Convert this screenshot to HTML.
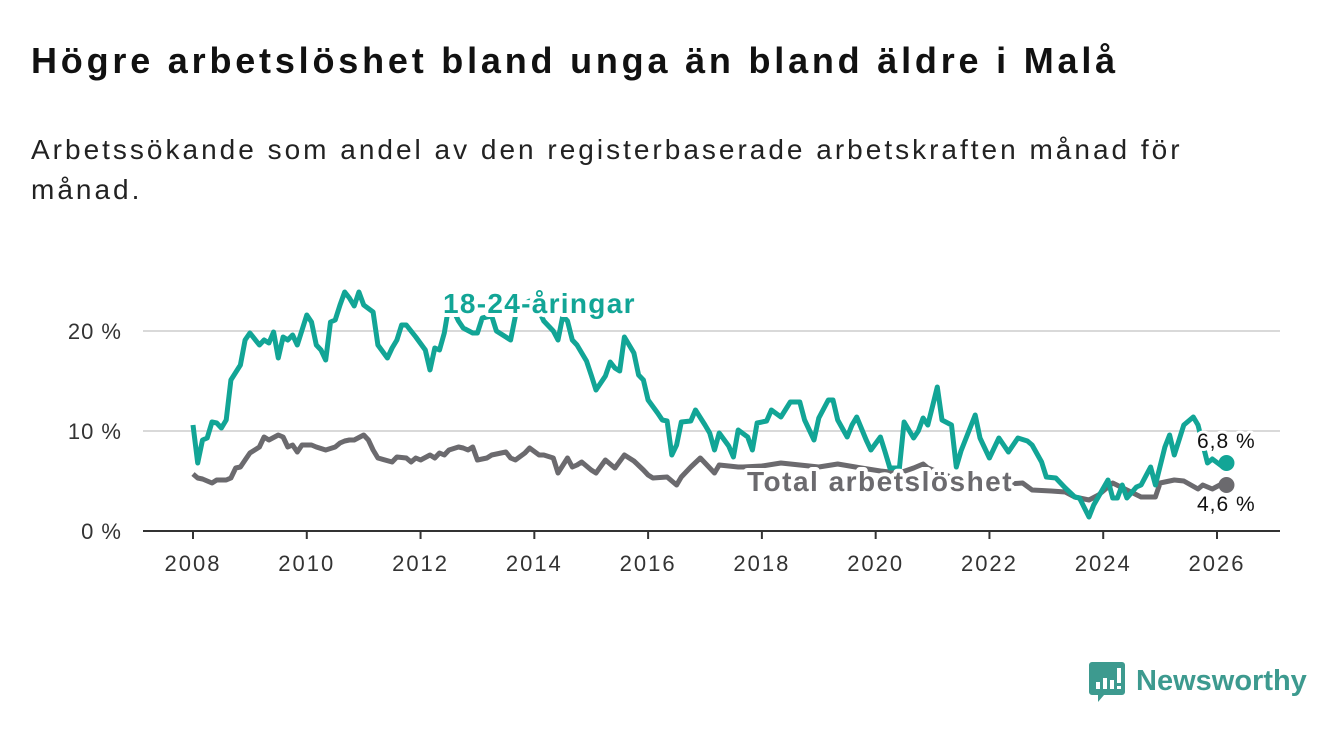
<!DOCTYPE html>
<html><head><meta charset="utf-8">
<style>
body{margin:0;width:1340px;height:734px;background:#fff;font-family:"Liberation Sans","DejaVu Sans",sans-serif;overflow:hidden;position:relative}
h1{position:absolute;left:31px;top:40px;margin:0;font-size:36px;letter-spacing:3.8px;font-weight:bold;color:#111;white-space:nowrap}
p.sub{position:absolute;left:31px;top:130px;margin:0;font-size:28px;letter-spacing:3.0px;line-height:40px;color:#222;width:1180px}
svg{position:absolute;left:0;top:0}
</style></head><body>
<h1>Högre arbetslöshet bland unga än bland äldre i Malå</h1>
<p class="sub">Arbetssökande som andel av den registerbaserade arbetskraften månad för månad.</p>
<svg id="chart" width="1340" height="734"></svg>
<script>
const yTicks=[0,10,20];
const yTickLabels=["0 %","10 %","20 %"];
const xTicks=[2008,2010,2012,2014,2016,2018,2020,2022,2024,2026];
const youthMonths=[0,1,2,3,4,5,6,7,8,10,11,12,14,15,16,17,18,19,20,21,22,24,25,26,27,28,29,30,31,32,33,34,35,36,38,39,41,42,43,44,45,47,49,50,51,52,53,54,55,56,57,59,60,61,63,64,66,67,68,69,71,73,74,76,77,78,79,80,81,83,84,85,87,88,89,90,91,93,94,95,96,98,99,100,101,102,103,105,106,108,109,110,111,113,114,115,117,118,119,121,122,124,126,128,129,131,132,134,135,136,138,139,140,142,143,145,146,147,149,150,152,153,154,155,156,157,158,160,161,162,165,166,168,170,172,174,176,177,179,180,182,184,186,187,189,190,193,194,195,196,197,199,200,202,203,205,206,207,209,211,212,214,215,217,218];
const youthValues=[10.6,6.8,9.1,9.3,10.9,10.8,10.3,11.1,15.1,16.6,19.1,19.8,18.6,19.1,18.8,19.9,17.3,19.4,19.1,19.6,18.6,21.6,20.9,18.6,18.1,17.1,20.9,21.1,22.6,23.9,23.3,22.5,23.9,22.6,21.9,18.6,17.3,18.3,19.1,20.6,20.6,19.4,18.1,16.1,18.3,18.1,19.8,22.6,22.0,21.0,20.3,19.8,19.8,21.3,21.5,20.0,19.4,19.1,21.5,22.5,23.0,22.0,21.0,20.0,19.1,21.5,21.0,19.1,18.6,17.0,15.6,14.1,15.5,16.9,16.3,16.0,19.4,17.8,15.6,15.1,13.1,11.8,11.1,11.0,7.6,8.6,10.9,11.0,12.1,10.6,9.8,8.1,9.8,8.5,7.4,10.1,9.4,8.1,10.8,11.0,12.1,11.4,12.9,12.9,11.1,9.1,11.3,13.1,13.1,11.1,9.4,10.6,11.4,9.1,8.1,9.4,7.9,6.3,6.3,10.9,9.3,10.0,11.3,10.6,12.5,14.4,11.1,10.6,6.4,8.0,11.6,9.3,7.3,9.3,7.9,9.3,9.0,8.6,6.9,5.4,5.3,4.3,3.4,3.3,1.4,2.6,5.1,3.3,3.3,4.6,3.3,4.4,4.6,6.4,4.6,8.4,9.6,7.6,10.6,11.4,10.6,6.8,7.2,6.5,6.8];
const totalMonths=[0,1,2,4,5,7,8,9,10,11,12,14,15,16,18,19,20,21,22,23,25,26,28,30,31,32,33,34,36,37,38,39,42,43,45,46,47,48,50,51,52,53,54,56,57,58,59,60,62,63,65,66,67,68,70,71,73,74,76,77,79,80,81,82,84,85,87,89,91,93,95,96,97,100,102,103,105,107,110,111,113,115,116,120,124,128,132,136,141,145,149,152,154,155,162,168,172,175,177,181,184,186,189,191,194,197,200,203,204,207,209,212,213,215,217,218];
const totalValues=[5.7,5.3,5.2,4.8,5.1,5.1,5.3,6.3,6.4,7.1,7.8,8.4,9.4,9.1,9.6,9.4,8.4,8.6,7.9,8.6,8.6,8.4,8.1,8.4,8.8,9.0,9.1,9.1,9.6,9.1,8.1,7.3,6.9,7.4,7.3,6.9,7.3,7.1,7.6,7.3,7.8,7.6,8.1,8.4,8.3,8.1,8.4,7.1,7.3,7.6,7.8,7.9,7.3,7.1,7.8,8.3,7.6,7.6,7.3,5.8,7.3,6.4,6.6,6.9,6.1,5.8,7.1,6.3,7.6,7.0,6.1,5.6,5.3,5.4,4.6,5.4,6.4,7.3,5.8,6.6,6.5,6.4,6.4,6.5,6.8,6.6,6.4,6.7,6.3,6.0,5.8,6.3,6.7,6.3,5.0,4.8,4.7,4.8,4.1,4.0,3.9,3.4,3.1,3.6,4.8,4.1,3.4,3.4,4.8,5.1,5.0,4.2,4.6,4.2,4.7,4.6];

const svg=document.getElementById('chart');
const NS='http://www.w3.org/2000/svg';
const x0=193,pxYear=(1217-193)/18;
function xScale(m){return x0+m/12*pxYear;}
function xYear(y){return x0+(y-2008)*pxYear;}
function yScale(v){return 531-v*10;}
function mk(tag,attrs,parent){const e=document.createElementNS(NS,tag);for(const k in attrs)e.setAttribute(k,attrs[k]);(parent||svg).appendChild(e);return e;}

yTicks.forEach((t,i)=>{
  if(t>0){const g=mk('line',{x1:143,x2:1280,y1:yScale(t),y2:yScale(t),stroke:'#d9d9d9','stroke-width':2});
  
  }
  const tx=mk('text',{x:122,y:yScale(t)+8,'text-anchor':'end','font-size':22,'letter-spacing':1,fill:'#333'});
  tx.textContent=yTickLabels[i];
  
  
});
const ax=mk('line',{x1:143,x2:1280,y1:531,y2:531,stroke:'#333','stroke-width':2});


xTicks.forEach(t=>{
  const x=xYear(t);
  mk('line',{x1:x,x2:x,y1:531,y2:539,stroke:'#333','stroke-width':2});
  const tx=mk('text',{x:x,y:571,'text-anchor':'middle','font-size':22,'letter-spacing':2,fill:'#333'});
  tx.textContent=t;
  
  
});
function line(ms,vs,color,name){
  const d=ms.map((m,i)=>(i?'L':'M')+xScale(m).toFixed(1)+','+yScale(vs[i]).toFixed(1)).join('');
  const p=mk('path',{d:d,fill:'none',stroke:color,'stroke-width':5,'stroke-linejoin':'round'});
  
  
  const lm=ms[ms.length-1],lv=vs[vs.length-1];
  const c=mk('circle',{cx:xScale(lm),cy:yScale(lv),r:8,fill:color});
  
  
}
line(totalMonths,totalValues,'#6b6a6e','total-line');
line(youthMonths,youthValues,'#12a596','youth-line');
function label(txt,x,y,color,size,bold,ls,name){
  const t=mk('text',{x:x,y:y,'font-size':size,'font-weight':bold?'bold':'normal','letter-spacing':ls,fill:color,stroke:'#fff','stroke-width':bold?8:6,'paint-order':'stroke','stroke-linejoin':'round'});
  t.textContent=txt;
  
  
}
label('18-24-åringar',443,313,'#12a596',28,true,1.3,'youth-series-label');
label('Total arbetslöshet',747,491,'#6b6a6e',28,true,1.5,'total-series-label');
label('6,8 %',1197,448,'#111',21,false,1,'youth-end-value');
label('4,6 %',1197,511,'#111',21,false,1,'total-end-value');
const lg=mk('g',{});


mk('path',{d:'M1092,662 h30 a3,3 0 0 1 3,3 v27 a3,3 0 0 1 -3,3 h-18 l-6,7 v-7 h-6 a3,3 0 0 1 -3,-3 v-27 a3,3 0 0 1 3,-3z',fill:'#3d9a8f'},lg);
mk('rect',{x:1096,y:682,width:4,height:7,fill:'#fff'},lg);
mk('rect',{x:1103,y:678,width:4,height:11,fill:'#fff'},lg);
mk('rect',{x:1110,y:680,width:4,height:9,fill:'#fff'},lg);
mk('rect',{x:1117,y:668,width:4,height:15,fill:'#fff'},lg);
mk('rect',{x:1117,y:686,width:4,height:3,fill:'#fff'},lg);
const lt=mk('text',{x:1136,y:690,'font-size':29,fill:'#3d9a8f','font-weight':'bold'},lg);
lt.textContent='Newsworthy';
</script>
</body></html>
